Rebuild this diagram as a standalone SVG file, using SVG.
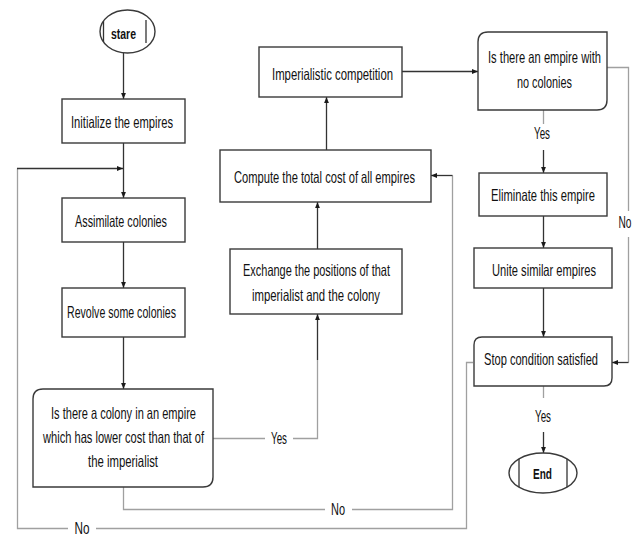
<svg xmlns="http://www.w3.org/2000/svg" width="638" height="536" viewBox="0 0 638 536">
<style>
.box{fill:#fff;stroke:#3a3a3a;stroke-width:1.4}
.t{font-family:"Liberation Sans",Arial,sans-serif;font-size:16.5px;fill:#111;text-anchor:middle}
.b{font-weight:bold;font-size:15px}
.dk{fill:none;stroke:#333;stroke-width:1.3}
.lt{fill:none;stroke:#a0a0a0;stroke-width:1.3}
.bg{fill:#fff}
</style>
<defs>
<marker id="ah" viewBox="0 0 10 10" refX="10" refY="5" markerWidth="6" markerHeight="6" orient="auto" markerUnits="userSpaceOnUse">
<path d="M0,1 L10,5 L0,9 Z" fill="#1a1a1a"/>
</marker>
</defs>
<rect width="638" height="536" fill="#fff"/>
<g id="connectors">
<line class="dk" x1="123.5" y1="53" x2="123.5" y2="99" marker-end="url(#ah)"/>
<line class="dk" x1="123.5" y1="143" x2="123.5" y2="198" marker-end="url(#ah)"/>
<line class="dk" x1="123.5" y1="242" x2="123.5" y2="288" marker-end="url(#ah)"/>
<line class="dk" x1="123.5" y1="337" x2="123.5" y2="389" marker-end="url(#ah)"/>
<polyline class="lt" points="473,362.5 466.5,362.5 466.5,528.5 96,528.5"/>
<polyline class="lt" points="68,528.5 17.5,528.5 17.5,168.5"/>
<line class="dk" x1="17" y1="168.5" x2="123" y2="168.5" marker-end="url(#ah)"/>
<polyline class="lt" points="213,438.5 265,438.5"/>
<polyline class="lt" points="293,438.5 317.5,438.5 317.5,360"/>
<line class="dk" x1="317.5" y1="360" x2="317.5" y2="314" marker-end="url(#ah)"/>
<polyline class="lt" points="123.5,487 123.5,509.5 325,509.5"/>
<polyline class="lt" points="352,509.5 452.5,509.5 452.5,175.5"/>
<line class="dk" x1="452.5" y1="175.5" x2="431" y2="175.5" marker-end="url(#ah)"/>
<line class="dk" x1="326.5" y1="150" x2="326.5" y2="97" marker-end="url(#ah)"/>
<line class="dk" x1="317.5" y1="249" x2="317.5" y2="202" marker-end="url(#ah)"/>
<line class="dk" x1="402" y1="71.5" x2="478" y2="71.5" marker-end="url(#ah)"/>
<polyline class="lt" points="607,67.5 628.5,67.5 628.5,211"/>
<polyline class="lt" points="628.5,237 628.5,362.5"/>
<line class="dk" x1="628.5" y1="362.5" x2="612" y2="362.5" marker-end="url(#ah)"/>
<line class="lt" x1="543.5" y1="110" x2="543.5" y2="124"/>
<line class="dk" x1="543.5" y1="150" x2="543.5" y2="173" marker-end="url(#ah)"/>
<line class="dk" x1="543.5" y1="216" x2="543.5" y2="248" marker-end="url(#ah)"/>
<line class="dk" x1="543.5" y1="288" x2="543.5" y2="337" marker-end="url(#ah)"/>
<line class="lt" x1="543.5" y1="386" x2="543.5" y2="398"/>
<line class="dk" x1="543.5" y1="432" x2="543.5" y2="453" marker-end="url(#ah)"/>
<text class="t" x="279" y="444" textLength="16" lengthAdjust="spacingAndGlyphs">Yes</text>
<text class="t" x="338" y="515" textLength="14" lengthAdjust="spacingAndGlyphs">No</text>
<text class="t" x="82" y="533.5" textLength="15" lengthAdjust="spacingAndGlyphs">No</text>
<text class="t" x="625" y="228" textLength="13" lengthAdjust="spacingAndGlyphs">No</text>
<text class="t" x="542" y="139" textLength="16" lengthAdjust="spacingAndGlyphs">Yes</text>
<text class="t" x="543" y="422" textLength="16" lengthAdjust="spacingAndGlyphs">Yes</text>
</g>
<g id="start">
<ellipse class="box" cx="127.5" cy="31.5" rx="27.5" ry="21.5"/>
<line class="dk" x1="103.5" y1="21" x2="103.5" y2="42"/>
<line class="dk" x1="146" y1="20" x2="146" y2="43"/>
<text class="t b" x="123.5" y="38.5" textLength="25" lengthAdjust="spacingAndGlyphs">stare</text>
</g>
<g id="init">
<rect class="box" x="62" y="99" width="123" height="44"/>
<text class="t" x="122" y="128" textLength="102" lengthAdjust="spacingAndGlyphs">Initialize the empires</text>
</g>
<g id="assimilate">
<rect class="box" x="62" y="198" width="123" height="44"/>
<text class="t" x="121" y="227" textLength="92" lengthAdjust="spacingAndGlyphs">Assimilate colonies</text>
</g>
<g id="revolve">
<rect class="box" x="62" y="288" width="123" height="49"/>
<text class="t" x="121.5" y="318" textLength="109" lengthAdjust="spacingAndGlyphs">Revolve some colonies</text>
</g>
<g id="decision1">
<path class="box" d="M43,389 H213 V477 Q213,487 203,487 H33 V399 Q33,389 43,389 Z"/>
<text class="t" x="123.5" y="419" textLength="145" lengthAdjust="spacingAndGlyphs">Is there a colony in an empire</text>
<text class="t" x="123.5" y="443" textLength="161" lengthAdjust="spacingAndGlyphs">which has lower cost than that of</text>
<text class="t" x="123" y="467" textLength="70" lengthAdjust="spacingAndGlyphs">the imperialist</text>
</g>
<g id="exchange">
<rect class="box" x="230" y="249" width="172" height="65"/>
<text class="t" x="316.5" y="276" textLength="147" lengthAdjust="spacingAndGlyphs">Exchange the positions of that</text>
<text class="t" x="316" y="301" textLength="128" lengthAdjust="spacingAndGlyphs">imperialist and the colony</text>
</g>
<g id="compute">
<rect class="box" x="220" y="150" width="211" height="52"/>
<text class="t" x="324.5" y="183" textLength="181" lengthAdjust="spacingAndGlyphs">Compute the total cost of all empires</text>
</g>
<g id="competition">
<rect class="box" x="259" y="47" width="143" height="50"/>
<text class="t" x="332.5" y="80" textLength="121" lengthAdjust="spacingAndGlyphs">Imperialistic competition</text>
</g>
<g id="decision2">
<path class="box" d="M488,32 H607 V100 Q607,110 597,110 H478 V42 Q478,32 488,32 Z"/>
<text class="t" x="544.5" y="63" textLength="113" lengthAdjust="spacingAndGlyphs">Is there an empire with</text>
<text class="t" x="544.5" y="88" textLength="55" lengthAdjust="spacingAndGlyphs">no colonies</text>
</g>
<g id="eliminate">
<rect class="box" x="479" y="173" width="128" height="43"/>
<text class="t" x="543" y="201" textLength="104" lengthAdjust="spacingAndGlyphs">Eliminate this empire</text>
</g>
<g id="unite">
<rect class="box" x="474" y="248" width="138" height="40"/>
<text class="t" x="544" y="276" textLength="104" lengthAdjust="spacingAndGlyphs">Unite similar empires</text>
</g>
<g id="stop">
<path class="box" d="M482,337 H612 V378 Q612,386 604,386 H474 V345 Q474,337 482,337 Z"/>
<text class="t" x="541" y="365" textLength="114" lengthAdjust="spacingAndGlyphs">Stop condition satisfied</text>
</g>
<g id="end">
<ellipse class="box" cx="543" cy="473" rx="34" ry="20"/>
<line class="dk" x1="519" y1="459" x2="519" y2="487"/>
<line class="dk" x1="567" y1="459" x2="567" y2="487"/>
<text class="t b" x="542.5" y="478.5" textLength="19" lengthAdjust="spacingAndGlyphs">End</text>
</g>
</svg>
